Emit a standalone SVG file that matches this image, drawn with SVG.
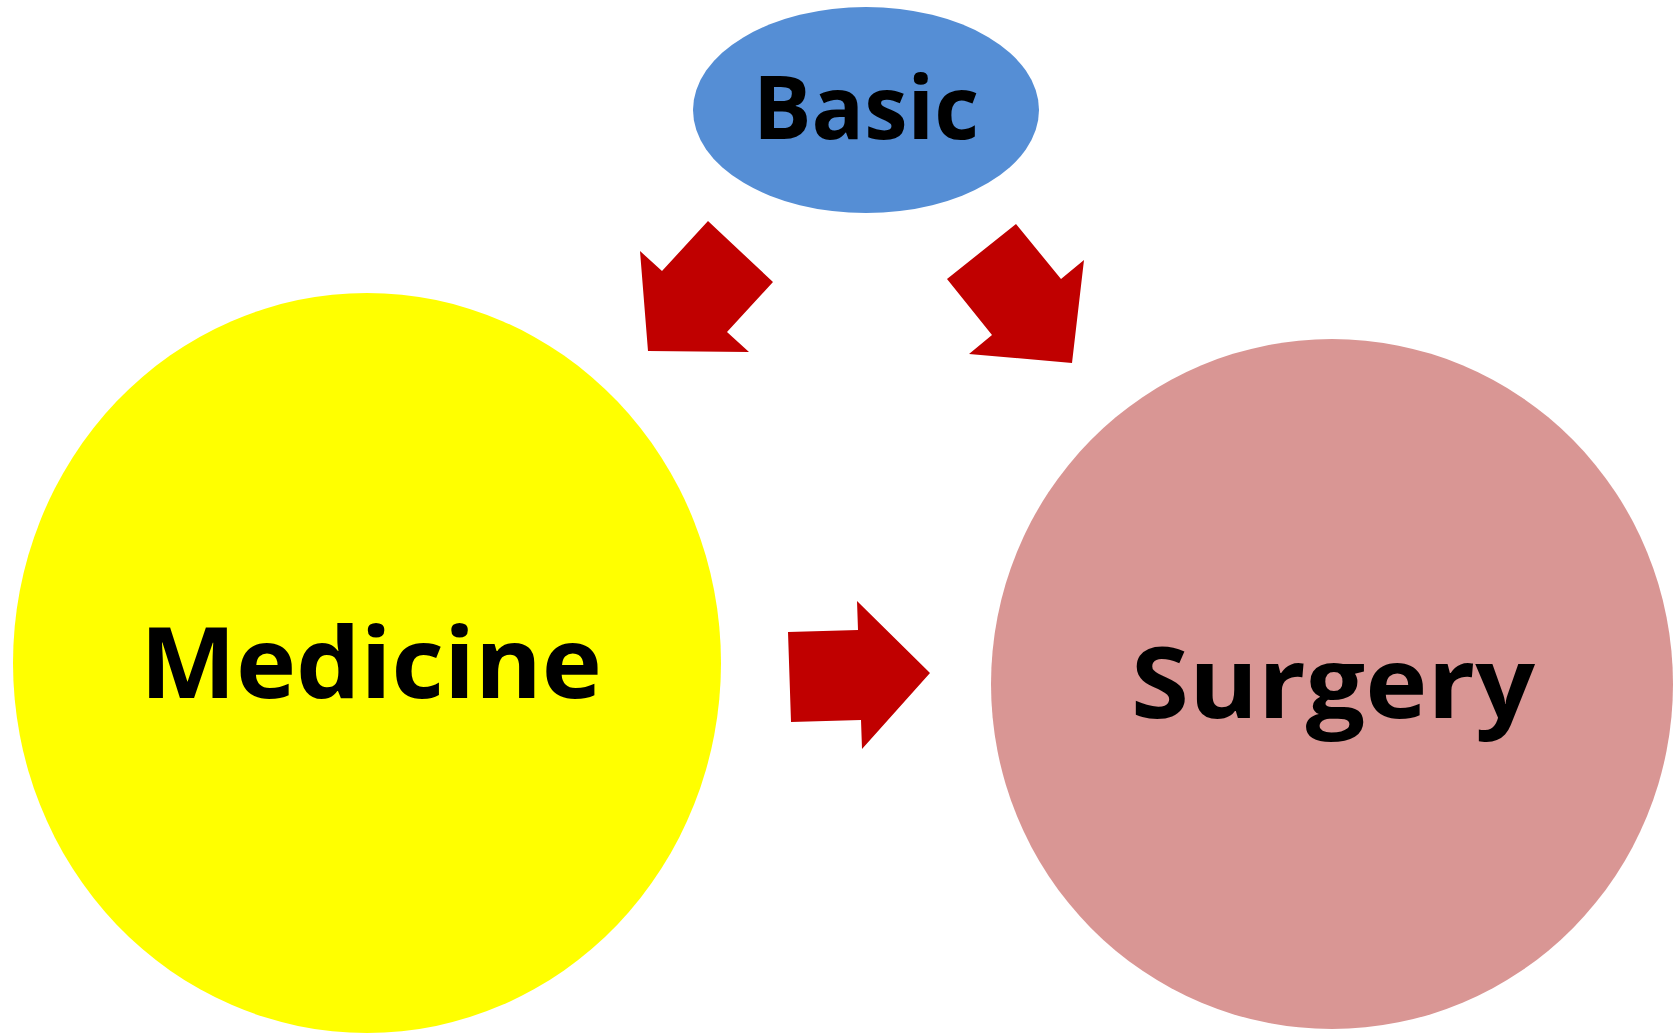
<svg xmlns="http://www.w3.org/2000/svg" width="1677" height="1035" viewBox="0 0 1677 1035">
<style>
.lbl{font-family:"Open Sans","Liberation Sans",sans-serif;font-weight:bold;fill:#000;text-anchor:middle}
.arr{fill:#C00000}
</style>
<rect width="1677" height="1035" fill="#fff"/>
<g id="node-basic">
<ellipse cx="866" cy="110" rx="173" ry="103" fill="#558ED5"/>
<text class="lbl" x="866" y="139" font-size="88" textLength="226" lengthAdjust="spacingAndGlyphs">Basic</text>
</g>
<g id="node-medicine">
<ellipse cx="367" cy="663" rx="354" ry="370" fill="#FFFF00"/>
<text class="lbl" x="371" y="698" font-size="98" textLength="462" lengthAdjust="spacingAndGlyphs">Medicine</text>
</g>
<g id="node-surgery">
<ellipse cx="1332" cy="684" rx="341" ry="345" fill="#D99694"/>
<text class="lbl" x="1333" y="718" font-size="98" textLength="404" lengthAdjust="spacingAndGlyphs">Surgery</text>
</g>
<g id="connectors">
<polygon class="arr" points="708,221 773,282 727,332 749,352 648,351 640,251 662,271"/>
<polygon class="arr" points="1016,224 1061,279 1084,260 1072,363 969,354 992,335 947,279"/>
<polygon class="arr" points="788,632 858,630 857,601 930,673 862,749 861,720 791,722"/>
</g>
</svg>
